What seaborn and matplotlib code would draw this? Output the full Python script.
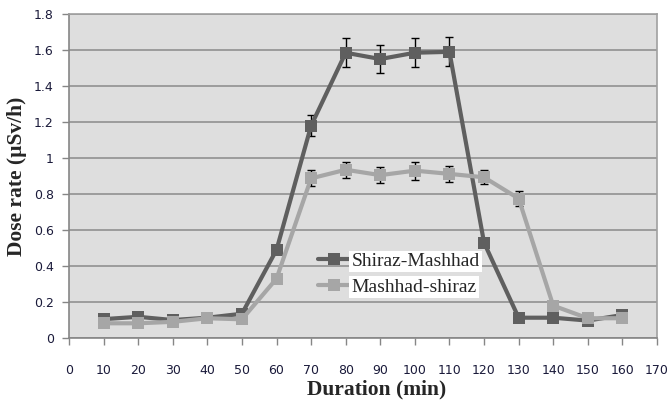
import numpy as np
import pandas as pd
import matplotlib
matplotlib.use("Agg")
import matplotlib.pyplot as plt
import seaborn as sns

# values
duration = [10, 20, 30, 40, 50, 60, 70, 80, 90, 100, 110, 120, 130, 140, 150, 160]
shiraz_mashhad = [0.105, 0.118, 0.10, 0.113, 0.135, 0.49, 1.18, 1.585, 1.55, 1.585, 1.59, 0.53, 0.113, 0.113, 0.097, 0.128]
shiraz_mashhad_err = [0, 0, 0, 0, 0, 0, 0.06, 0.08, 0.08, 0.08, 0.08, 0, 0, 0, 0, 0]
mashhad_shiraz = [0.082, 0.082, 0.09, 0.11, 0.104, 0.33, 0.887, 0.935, 0.905, 0.93, 0.912, 0.893, 0.775, 0.18, 0.11, 0.11]
mashhad_shiraz_err = [0, 0, 0, 0, 0, 0, 0.045, 0.045, 0.045, 0.05, 0.045, 0.04, 0.04, 0.02, 0, 0]
series_names = ["Shiraz-Mashhad", "Mashhad-shiraz"]
colors = ["#5f5f5f", "#a6a6a6"]

df = pd.DataFrame({
    "Duration": duration * 2,
    "Dose": shiraz_mashhad + mashhad_shiraz,
    "Err": shiraz_mashhad_err + mashhad_shiraz_err,
    "Route": [series_names[0]] * len(duration) + [series_names[1]] * len(duration),
})

sns.set_style("white")
fig = plt.figure(figsize=(6.68, 4.01), dpi=100)
ax = fig.add_axes([0.1033, 0.157, 0.8802, 0.808])
ax.set_facecolor("#dedede")

# error bars under the markers
for name, col in zip(series_names, colors):
    sub = df[(df["Route"] == name) & (df["Err"] > 0)]
    ax.errorbar(sub["Duration"], sub["Dose"], yerr=sub["Err"], fmt="none",
                ecolor="black", elinewidth=1, capsize=3, capthick=1, zorder=2.5)

sns.lineplot(data=df, x="Duration", y="Dose", hue="Route", style="Route",
             hue_order=series_names, style_order=series_names,
             palette=colors, markers=["s", "s"], dashes=False,
             linewidth=3, markersize=9, markeredgewidth=0, ax=ax, zorder=3)

ax.set_xlim(0, 170)
ax.set_ylim(0, 1.8)
ax.set_xticks(range(0, 171, 10))
ax.set_yticks(np.arange(0, 1.81, 0.2))
ax.set_yticklabels(["0", "0.2", "0.4", "0.6", "0.8", "1", "1.2", "1.4", "1.6", "1.8"])
ax.yaxis.grid(True, color="#8a8a8a", linewidth=1.1)
ax.set_axisbelow(True)

for s in ["top", "right"]:
    ax.spines[s].set_color("#a0a0a0")
    ax.spines[s].set_linewidth(1.2)
for s in ["left", "bottom"]:
    ax.spines[s].set_color("#868686")
    ax.spines[s].set_linewidth(1.2)

ax.tick_params(axis="x", direction="out", length=5, width=1, color="#868686",
               pad=14, labelsize=9, labelcolor="#1a1a3a", bottom=True)
ax.tick_params(axis="y", direction="out", length=5, width=1, color="#868686",
               pad=6, labelsize=9, labelcolor="#1a1a3a", left=True)

ax.set_xlabel("Duration (min)", fontsize=15.5, fontweight="bold",
              family="Liberation Serif")
ax.xaxis.set_label_coords(0.523, -0.158)
ax.xaxis.label.set_va("center")
ax.set_ylabel("Dose rate (\u00b5Sv/h)", fontsize=15.5, fontweight="bold",
              family="Liberation Serif", labelpad=5)

leg = ax.legend(loc="upper left", bbox_to_anchor=(0.393, 0.318), frameon=False,
                prop={"family": "Liberation Serif", "size": 14},
                handlelength=1.7, handletextpad=0.05, labelspacing=0.4)
for t in leg.get_texts():
    t.set_bbox(dict(facecolor="white", edgecolor="none", pad=1.5))

fig.savefig("out.png", dpi=100)
